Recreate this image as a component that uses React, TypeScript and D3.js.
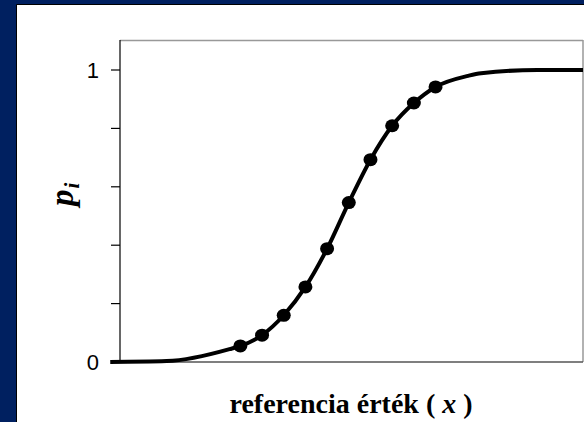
import React from "react";
import * as d3 from "d3";

// observed points (markers)
const obsX = [6, 7, 8, 9, 10, 11, 12, 13, 14, 15];
const obsP = [0.055, 0.092, 0.16, 0.257, 0.388, 0.546, 0.693, 0.809, 0.887, 0.942];

// fitted curve nodes (line)
const fitX = [0, 2.6, 5.5, 6, 7, 8, 9, 10, 11, 12, 13, 14, 15, 16.5, 17.1, 19.7, 21.8];
const fitP = [0, 0.003, 0.044, 0.055, 0.092, 0.16, 0.257, 0.388, 0.546, 0.693, 0.809, 0.887, 0.942, 0.98, 0.989, 1, 1];

const yTicks = [0, 0.2, 0.4, 0.6, 0.8, 1];
const yTickLabels = ["0", "", "", "", "", "1"];

const W = 584;
const H = 422;
const plot = { left: 120, top: 40, right: 583, bottom: 362 };

const App = () => {
  const x = d3.scaleLinear().domain([0.45, 21.8]).range([plot.left, plot.right]);
  const y = d3.scaleLinear().domain([0, 1]).range([plot.bottom, 70]);

  const line = d3
    .line<number>()
    .x((d, i) => x(fitX[i]))
    .y((d) => y(d))
    .curve(d3.curveMonotoneX);

  return (
    <svg width={W} height={H} style={{ position: "fixed", left: 0, top: 0 }}>
      <rect x={0} y={0} width={W} height={H} fill="#002060" />
      <rect x={17} y={5} width={W - 17} height={H - 5} fill="#ffffff" />
      <line x1={16.5} y1={4.5} x2={16.5} y2={H} stroke="#000" strokeWidth={1} />
      <line x1={16.5} y1={4.5} x2={W} y2={4.5} stroke="#000" strokeWidth={1} />

      {/* plot frame */}
      <line x1={plot.left} y1={plot.top + 0.5} x2={plot.right} y2={plot.top + 0.5} stroke="#999" strokeWidth={1.5} />
      <line x1={plot.right} y1={plot.top} x2={plot.right} y2={plot.bottom} stroke="#999" strokeWidth={1.5} />
      <line x1={plot.left} y1={plot.bottom} x2={plot.right} y2={plot.bottom} stroke="#555" strokeWidth={1.5} />
      <line x1={plot.left} y1={plot.top} x2={plot.left} y2={plot.bottom} stroke="#000" strokeWidth={1.2} />

      {yTicks.map((t, i) => (
        <g key={i}>
          <line x1={111} x2={plot.left} y1={y(t)} y2={y(t)} stroke="#000" strokeWidth={1.2} />
          <text
            x={99}
            y={y(t) + 8}
            textAnchor="end"
            fontFamily="'Liberation Sans', Arial, sans-serif"
            fontSize={22}
            fill="#000"
          >
            {yTickLabels[i]}
          </text>
        </g>
      ))}

      <path d={line(fitP) || ""} fill="none" stroke="#000" strokeWidth={4} strokeLinejoin="round" />
      {obsX.map((d, i) => (
        <ellipse key={i} cx={x(d)} cy={y(obsP[i])} rx={7} ry={6.5} fill="#000" />
      ))}

      <text
        transform={`translate(73,206) rotate(-90)`}
        fontFamily="'Liberation Serif', 'Times New Roman', serif"
        fontWeight="bold"
        fontStyle="italic"
        fontSize={33}
        fill="#000"
      >
        p<tspan fontSize={21} dx={1} dy={6}>i</tspan>
      </text>

      <text
        x={351}
        y={413}
        textAnchor="middle"
        fontFamily="'Liberation Serif', 'Times New Roman', serif"
        fontWeight="bold"
        fontSize={28}
        fill="#000"
      >
        referencia érték ( <tspan fontStyle="italic">x</tspan> )
      </text>
    </svg>
  );
};

export default App;
